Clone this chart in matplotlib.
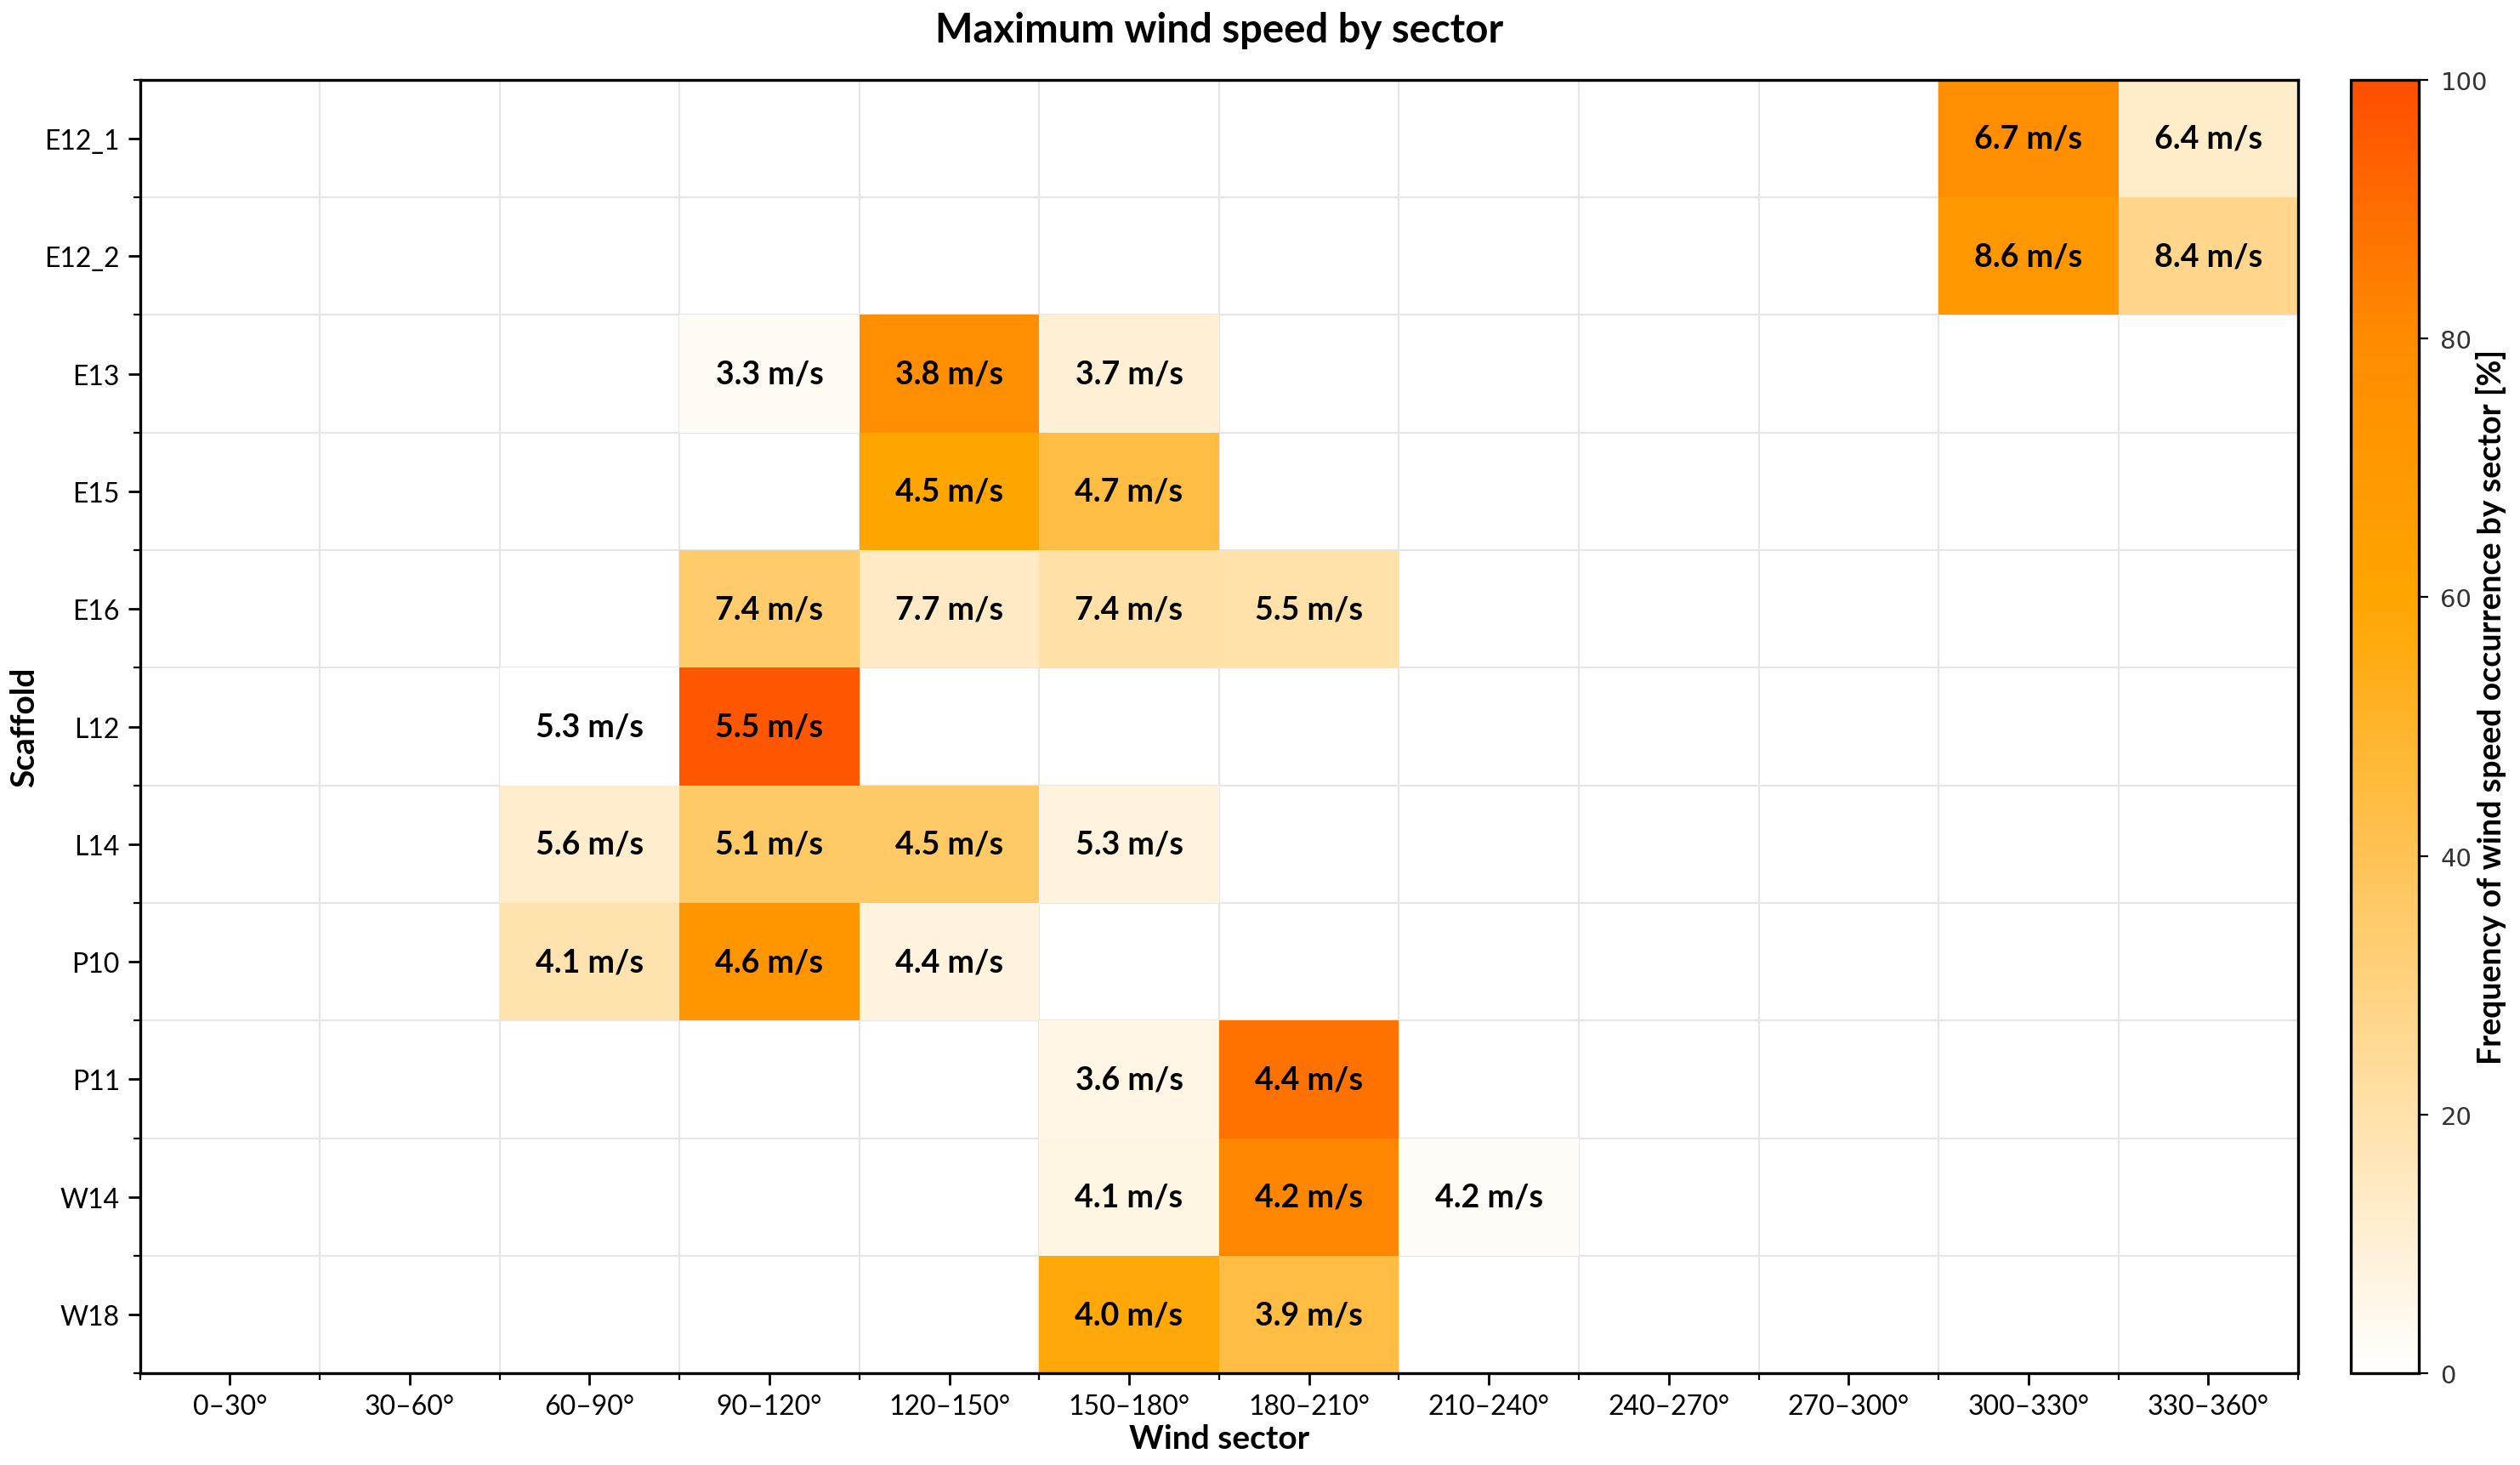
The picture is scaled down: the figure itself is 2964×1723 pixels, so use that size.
import numpy as np
import matplotlib
matplotlib.use("Agg")
import matplotlib.pyplot as plt
from matplotlib.colors import LinearSegmentedColormap

scaffolds = ["E12_1", "E12_2", "E13", "E15", "E16", "L12", "L14", "P10", "P11", "W14", "W18"]
sectors = ["0–30°", "30–60°", "60–90°", "90–120°", "120–150°", "150–180°",
           "180–210°", "210–240°", "240–270°", "270–300°", "300–330°", "330–360°"]

# (scaffold, sector index, frequency [%], max speed [m/s])
cells = [
    ("E12_1", 10, 78, 6.7), ("E12_1", 11, 13, 6.4),
    ("E12_2", 10, 71, 8.6), ("E12_2", 11, 27, 8.4),
    ("E13", 3, 3, 3.3), ("E13", 4, 78, 3.8), ("E13", 5, 10, 3.7),
    ("E15", 4, 60, 4.5), ("E15", 5, 44, 4.7),
    ("E16", 3, 35, 7.4), ("E16", 4, 14, 7.7), ("E16", 5, 21, 7.4), ("E16", 6, 20, 5.5),
    ("L12", 2, 0.2, 5.3), ("L12", 3, 97, 5.5),
    ("L14", 2, 12, 5.6), ("L14", 3, 36, 5.1), ("L14", 4, 36, 4.5), ("L14", 5, 8, 5.3),
    ("P10", 2, 19, 4.1), ("P10", 3, 72, 4.6), ("P10", 4, 8, 4.4),
    ("P11", 5, 6, 3.6), ("P11", 6, 88, 4.4),
    ("W14", 5, 7, 4.1), ("W14", 6, 82, 4.2), ("W14", 7, 2, 4.2),
    ("W18", 5, 58, 4.0), ("W18", 6, 44, 3.9),
]

freq = np.full((len(scaffolds), len(sectors)), np.nan)
speed = np.full((len(scaffolds), len(sectors)), np.nan)
for name, col, f, s in cells:
    r = scaffolds.index(name)
    freq[r, col] = f
    speed[r, col] = s

cmap = LinearSegmentedColormap.from_list(
    "wind", [(0.0, "#FFFFFF"), (0.6, "#FFA500"), (0.8, "#FF8C00"), (1.0, "#FF4E00")])

plt.rcParams['font.family'] = ['Lato', 'DejaVu Sans']

fig = plt.figure(figsize=(14.82, 8.62), dpi=200)
ax = fig.add_axes([0.0555, 0.0625, 0.8565, 0.8825])
cax = fig.add_axes([0.933, 0.0625, 0.027, 0.8825])

mesh = ax.pcolormesh(np.arange(len(sectors) + 1), np.arange(len(scaffolds) + 1),
                     np.ma.masked_invalid(freq), cmap=cmap, vmin=0, vmax=100)
ax.set_xlim(0, len(sectors))
ax.set_ylim(len(scaffolds), 0)

for r in range(len(scaffolds)):
    for c in range(len(sectors)):
        if not np.isnan(speed[r, c]):
            ax.text(c + 0.5, r + 0.5, f"{speed[r, c]:.1f} m/s", ha="center", va="center",
                    fontsize=13.5, fontweight="bold", color="black")

ax.set_xticks(np.arange(len(sectors)) + 0.5)
ax.set_xticklabels(sectors, fontsize=11.5)
ax.set_yticks(np.arange(len(scaffolds)) + 0.5)
ax.set_yticklabels(scaffolds, fontsize=11.5)
ax.set_xticks(np.arange(len(sectors) + 1), minor=True)
ax.set_yticks(np.arange(len(scaffolds) + 1), minor=True)
ax.tick_params(which="major", length=5, width=1)
ax.tick_params(which="minor", length=3, width=0.8)
ax.grid(which="minor", color="#e6e6e6", linewidth=0.8)
ax.grid(which="major", visible=False)
ax.set_axisbelow(True)
for sp in ax.spines.values():
    sp.set_linewidth(1.2)

ax.set_xlabel("Wind sector", fontsize=14, fontweight="bold", labelpad=2)
ax.set_title("Maximum wind speed by sector", fontsize=17, fontweight="bold", pad=16)
fig.text(0.0096, 0.504, "Scaffold", rotation=90, ha="center", va="center",
         fontsize=14, fontweight="bold")

cb = fig.colorbar(mesh, cax=cax)
cb.set_ticks([0, 20, 40, 60, 80, 100])
cb.ax.tick_params(labelsize=10.5, labelcolor="#333333", length=4, pad=5)
for lab in cb.ax.get_yticklabels():
    lab.set_family("DejaVu Sans")
cb.outline.set_linewidth(1.2)
fig.text(0.9885, 0.518, "Frequency of wind speed occurrence by sector [%]", rotation=90,
         ha="center", va="center", fontsize=13.5, fontweight="bold")

fig.savefig("out.png", dpi=200)
